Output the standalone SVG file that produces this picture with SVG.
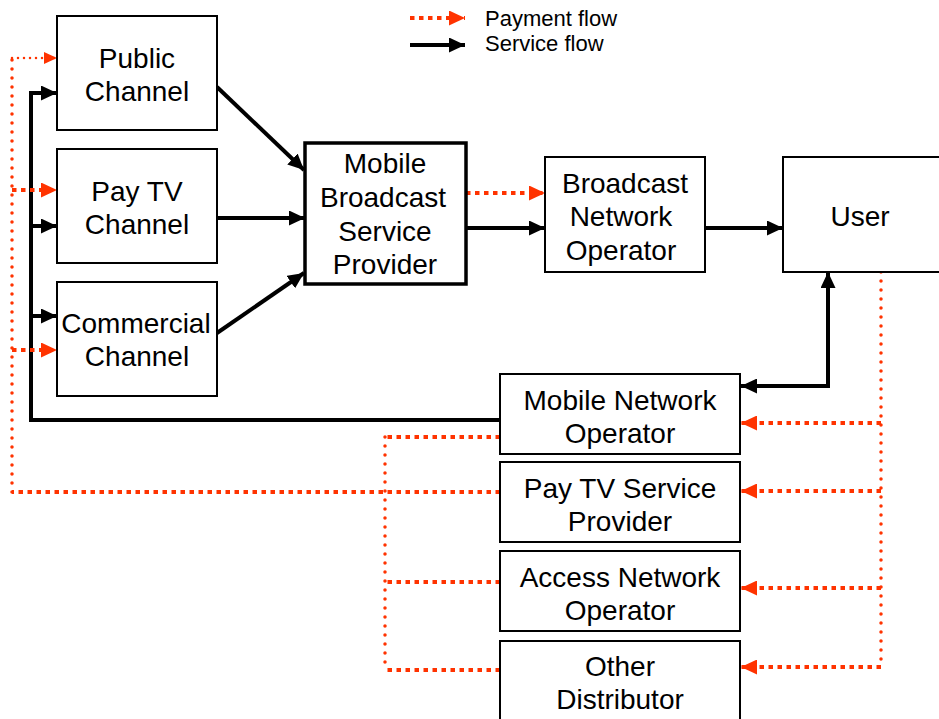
<svg xmlns="http://www.w3.org/2000/svg" width="939" height="719" viewBox="0 0 939 719">
<style>
.box{fill:#fff;stroke:#000;stroke-width:2}
.thick{stroke-width:3.5}
text{font-family:"Liberation Sans",Arial,sans-serif;font-size:28px;fill:#000;text-anchor:middle}
.leg{font-size:22px;text-anchor:start}
.svc{fill:none;stroke:#000;stroke-width:4}
.pay{fill:none;stroke:#FF3300;stroke-width:4;stroke-dasharray:4.5 4.5}
.dot{fill:none;stroke:#FF3300;stroke-width:3.5;stroke-linecap:round;stroke-dasharray:0 9}
.dots{fill:none;stroke:#FF3300;stroke-width:2.5;stroke-linecap:round;stroke-dasharray:0 6}
</style>
<defs>
<marker id="ab" markerUnits="userSpaceOnUse" markerWidth="16" markerHeight="15" refX="16" refY="7.5" orient="auto-start-reverse"><path d="M0,0 L16,7.5 L0,15 z" fill="#000"/></marker>
<marker id="ar" markerUnits="userSpaceOnUse" markerWidth="16" markerHeight="15" refX="16" refY="7.5" orient="auto"><path d="M0,0 L16,7.5 L0,15 z" fill="#FF3300"/></marker>
<marker id="ars" markerUnits="userSpaceOnUse" markerWidth="13" markerHeight="12" refX="13" refY="6" orient="auto"><path d="M0,0 L13,6 L0,12 z" fill="#FF3300"/></marker>
</defs>
<g id="legend">
<path class="pay" d="M410,18 H465" marker-end="url(#ar)"/>
<path class="svc" d="M410,45 H465" marker-end="url(#ab)"/>
<text class="leg" x="485" y="26">Payment flow</text>
<text class="leg" x="485" y="51">Service flow</text>
</g>
<g id="connectors">
<path class="svc" d="M217,87 L304,170" marker-end="url(#ab)"/>
<path class="svc" d="M217,218 H305" marker-end="url(#ab)"/>
<path class="svc" d="M217,333 L304,273" marker-end="url(#ab)"/>
<path class="svc" d="M466,228 H545" marker-end="url(#ab)"/>
<path class="svc" d="M705,228 H783" marker-end="url(#ab)"/>
<path class="svc" d="M741,386 H828 V272" marker-start="url(#ab)" marker-end="url(#ab)"/>
<path class="svc" d="M500,420 H31 V93 H57" marker-end="url(#ab)"/>
<path class="svc" d="M31,226 H57" marker-end="url(#ab)"/>
<path class="svc" d="M31,316 H57" marker-end="url(#ab)"/>
<path class="pay" d="M466,193 H545" marker-end="url(#ar)"/>
<path class="dot" d="M881,272 V667"/>
<path class="pay" d="M881,423 H741" marker-end="url(#ar)"/>
<path class="pay" d="M881,491 H741" marker-end="url(#ar)"/>
<path class="pay" d="M881,588 H741" marker-end="url(#ar)"/>
<path class="pay" d="M881,667 H741" marker-end="url(#ar)"/>
<path class="dot" d="M385,437 V670"/>
<path class="pay" d="M500,437 H385"/>
<path class="pay" d="M500,582 H385"/>
<path class="pay" d="M500,670 H385"/>
<path class="pay" d="M500,492 H12"/>
<path class="dot" d="M12,492 V58"/>
<path class="dots" d="M12,58 H57" marker-end="url(#ars)"/>
<path class="pay" d="M12,190 H57" marker-end="url(#ar)"/>
<path class="pay" d="M12,350 H57" marker-end="url(#ar)"/>
</g>
<g id="public-channel"><rect class="box" x="57" y="16" width="160" height="114"/><text x="137" y="68">Public</text><text x="137" y="101">Channel</text></g>
<g id="paytv-channel"><rect class="box" x="57" y="149" width="160" height="114"/><text x="137" y="201">Pay TV</text><text x="137" y="234">Channel</text></g>
<g id="commercial-channel"><rect class="box" x="57" y="282" width="160" height="114"/><text x="136" y="333">Commercial</text><text x="137" y="366">Channel</text></g>
<g id="mbsp"><rect class="box thick" x="305" y="143" width="161" height="141"/><text x="385" y="173">Mobile</text><text x="383" y="207">Broadcast</text><text x="385" y="241">Service</text><text x="385" y="274">Provider</text></g>
<g id="bno"><rect class="box" x="545" y="157" width="160" height="115"/><text x="625" y="193">Broadcast</text><text x="621" y="226">Network</text><text x="621" y="260">Operator</text></g>
<g id="user"><rect class="box" x="783" y="157" width="170" height="115"/><text x="860" y="226">User</text></g>
<g id="mno"><rect class="box" x="500" y="374" width="240" height="80"/><text x="620" y="410">Mobile Network</text><text x="620" y="443">Operator</text></g>
<g id="paytvsp"><rect class="box" x="500" y="462" width="240" height="80"/><text x="620" y="498">Pay TV Service</text><text x="620" y="531">Provider</text></g>
<g id="ano"><rect class="box" x="500" y="551" width="240" height="80"/><text x="620" y="587">Access Network</text><text x="620" y="620">Operator</text></g>
<g id="other"><rect class="box" x="500" y="641" width="240" height="90"/><text x="620" y="676">Other</text><text x="620" y="709">Distributor</text></g>
</svg>
